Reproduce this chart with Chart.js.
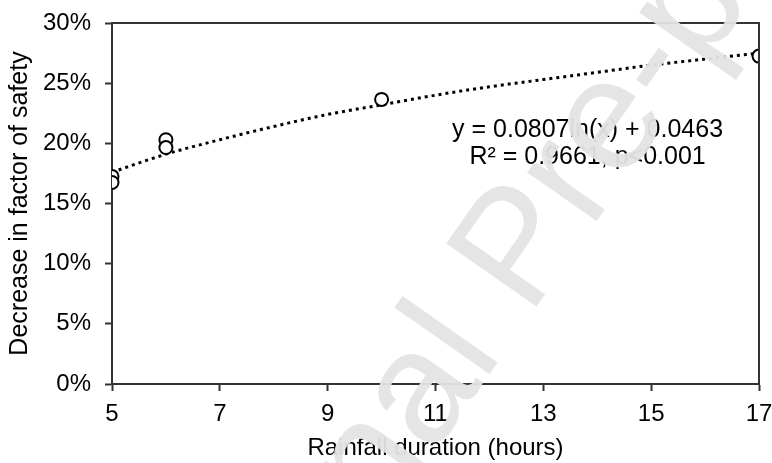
<!DOCTYPE html>
<html>
<head>
<meta charset="utf-8">
<script src="https://cdn.jsdelivr.net/npm/chart.js"></script>
<style>
  html, body { margin: 0; padding: 0; background: #fff; }
  #wrap { width: 772px; height: 463px; }
</style>
</head>
<body>
<div id="wrap"><canvas id="rainfallChart"></canvas></div>
<script>
// measured points (open circles)
const durationHours = [5, 5, 6, 6, 10, 17];
const safetyDecrease = [17.25, 16.75, 20.3, 19.65, 23.65, 27.25];

// dotted log trendline
const trendHours = [5, 6, 7, 8, 9, 10, 11, 12, 13, 14, 15, 16, 17];
const trendDecrease = [17.6, 19.1, 20.3, 21.4, 22.4, 23.2, 24.0, 24.7, 25.3, 25.9, 26.5, 27.0, 27.5];

const xTicks = [5, 7, 9, 11, 13, 15, 17];
const yTicks = [0, 5, 10, 15, 20, 25, 30];
const equationLines = ['y = 0.0807ln(x) + 0.0463', 'R\u00b2 = 0.9661, p<0.001'];
const watermark = 'Journal Pre-proof';

Chart.defaults.font.family = "'Liberation Sans', Arial, sans-serif";
Chart.defaults.color = '#000';

const axisColor = '#333';

const framePlugin = {
    id: 'frame',
    afterDatasetsDraw(chart) {
        const { ctx, chartArea: a } = chart;
        ctx.save();
        ctx.strokeStyle = axisColor;
        ctx.lineWidth = 2;
        ctx.beginPath();
        ctx.moveTo(a.left, a.top);
        ctx.lineTo(a.right, a.top);
        ctx.lineTo(a.right, a.bottom);
        ctx.stroke();
        ctx.restore();
    }
};

const equationPlugin = {
    id: 'equation',
    afterDatasetsDraw(chart) {
        const { ctx, chartArea: a } = chart;
        const cx = a.left + a.width * 0.735;
        ctx.save();
        ctx.fillStyle = '#000';
        ctx.font = "25px 'Liberation Sans', Arial, sans-serif";
        ctx.textAlign = 'center';
        ctx.textBaseline = 'middle';
        ctx.fillText(equationLines[0], cx, a.top + a.height * 0.298);
        ctx.fillText(equationLines[1], cx, a.top + a.height * 0.372);
        ctx.restore();
    }
};

const watermarkPlugin = {
    id: 'watermark',
    afterDraw(chart) {
        const { ctx } = chart;
        ctx.save();
        ctx.translate(521, 252);
        ctx.rotate(-55 * Math.PI / 180);
        ctx.fillStyle = 'rgba(228, 228, 228, 0.95)';
        ctx.font = "160px 'Liberation Sans', Arial, sans-serif";
        ctx.textAlign = 'center';
        ctx.textBaseline = 'middle';
        ctx.fillText(watermark, 0, 0);
        ctx.restore();
    }
};

const ctx = document.getElementById('rainfallChart').getContext('2d');
const rainfallChart = new Chart(ctx, {
    type: 'scatter',
    data: {
        datasets: [{
            label: 'Observed',
            data: durationHours.map((x, i) => ({ x: x, y: safetyDecrease[i] })),
            pointRadius: 6.5,
            pointBorderWidth: 2,
            pointBorderColor: '#000',
            pointBackgroundColor: '#fff',
            showLine: false
        }, {
            label: 'Log trend',
            data: trendHours.map((x, i) => ({ x: x, y: trendDecrease[i] })),
            showLine: true,
            pointRadius: 0,
            borderColor: '#000',
            borderWidth: 3,
            borderDash: [3, 4],
            cubicInterpolationMode: 'monotone',
            fill: false
        }]
    },
    options: {
        responsive: true,
        maintainAspectRatio: false,
        animation: false,
        layout: {
            padding: { top: 23, right: 0, left: 0, bottom: 0 }
        },
        plugins: {
            legend: { display: false },
            tooltip: { enabled: false }
        },
        scales: {
            x: {
                type: 'linear',
                min: 5,
                max: 17,
                afterBuildTicks: axis => { axis.ticks = xTicks.map(v => ({ value: v })); },
                afterFit: axis => {
                    axis.height = 79;
                    axis.paddingRight = 13;
                },
                border: { color: axisColor, width: 2 },
                grid: { drawOnChartArea: false, drawTicks: true, tickLength: 7, tickColor: axisColor, tickWidth: 2 },
                ticks: { font: { size: 24 }, padding: 9, maxRotation: 0 },
                title: {
                    display: true,
                    text: 'Rainfall duration (hours)',
                    font: { size: 24 },
                    padding: { top: 0, bottom: 0 }
                }
            },
            y: {
                type: 'linear',
                min: 0,
                max: 30,
                afterBuildTicks: axis => { axis.ticks = yTicks.map(v => ({ value: v })); },
                afterFit: axis => {
                    axis.width = 112;
                    axis.paddingTop = 0;
                    axis.paddingBottom = 0;
                },
                border: { color: axisColor, width: 2 },
                grid: { drawOnChartArea: false, drawTicks: true, tickLength: 7, tickColor: axisColor, tickWidth: 2 },
                ticks: { font: { size: 24 }, padding: 14, callback: v => v + '%' },
                title: {
                    display: true,
                    text: 'Decrease in factor of safety',
                    font: { size: 25 },
                    padding: { top: 5, bottom: 0 }
                }
            }
        }
    },
    plugins: [framePlugin, equationPlugin, watermarkPlugin]
});
</script>
</body>
</html>
